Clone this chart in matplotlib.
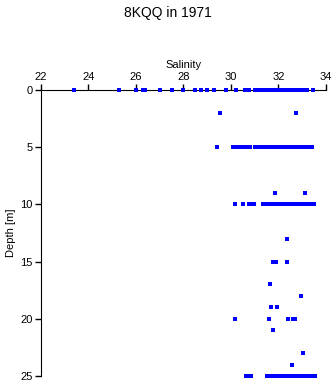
import numpy as np
import matplotlib
matplotlib.use('Agg')
from matplotlib import pyplot as plt

plt.rcParams['font.family'] = ['Liberation Sans', 'DejaVu Sans']

# salinity readings per depth level [m]
sal_0 = [23.4, 25.3, 26.0, 26.3, 26.4, 27.0, 27.5, 28.0, 28.5, 28.75, 29.0, 29.3,
         29.8, 30.2, 30.6, 30.75, 31.0, 31.2, 31.3, 31.4, 31.5, 31.6, 31.7, 31.8,
         31.9, 32.0, 32.1, 32.2, 32.3, 32.4, 32.5, 32.6, 32.7, 32.8, 32.9, 33.0,
         33.1, 33.2, 33.45]
sal_2 = [29.55, 32.75]
sal_5 = [29.4, 30.1, 30.15, 30.25, 30.4, 30.5, 30.6, 30.7, 30.8, 31.0, 31.1,
         31.2, 31.3, 31.4, 31.5, 31.6, 31.7, 31.8, 31.9, 32.0, 32.1, 32.2, 32.3,
         32.4, 32.5, 32.6, 32.7, 32.8, 32.9, 33.0, 33.1, 33.2, 33.3, 33.4]
sal_9 = [31.85, 33.1]
sal_10 = [30.15, 30.5, 30.75, 30.85, 30.95, 31.35, 31.5, 31.6, 31.7, 31.8, 31.9,
          32.0, 32.1, 32.2, 32.3, 32.45, 32.6, 32.7, 32.8, 32.9, 33.0, 33.1,
          33.2, 33.35, 33.5]
sal_13 = [32.35]
sal_15 = [31.75, 31.9, 32.35]
sal_17 = [31.65]
sal_18 = [32.95]
sal_19 = [31.7, 31.95]
sal_20 = [30.15, 31.6, 32.4, 32.6, 32.7]
sal_21 = [31.75]
sal_23 = [33.05]
sal_24 = [32.55]
sal_25 = [30.65, 30.75, 30.85, 31.5, 31.6, 31.7, 31.8, 31.9, 32.0, 32.1, 32.2,
          32.3, 32.45, 32.6, 32.7, 32.8, 32.9, 33.0, 33.1, 33.2, 33.3, 33.4, 33.55]

levels = [0, 2, 5, 9, 10, 13, 15, 17, 18, 19, 20, 21, 23, 24, 25]
readings = [sal_0, sal_2, sal_5, sal_9, sal_10, sal_13, sal_15, sal_17, sal_18,
            sal_19, sal_20, sal_21, sal_23, sal_24, sal_25]

fig = plt.figure(figsize=(3.35, 3.84), dpi=100)
ax = fig.add_axes([0.1224, 0.0208, 0.8506, 0.7448])

for d, s in zip(levels, readings):
    ax.plot(s, [d] * len(s), 's', color='blue', markersize=2.2,
            markeredgewidth=0, linestyle='none', clip_on=False, zorder=5)

ax.set_xlim(22, 34)
ax.set_ylim(25, 0)
ax.set_xticks([22, 24, 26, 28, 30, 32, 34])
ax.set_yticks([0, 5, 10, 15, 20, 25])
ax.xaxis.tick_top()
ax.xaxis.set_label_position('top')
ax.spines['bottom'].set_visible(False)
ax.spines['right'].set_visible(False)
ax.tick_params(direction='out', length=4, width=1, labelsize=8, pad=2)
ax.set_xlabel('Salinity', fontsize=8, labelpad=3)
ax.set_ylabel('Depth [m]', fontsize=8, labelpad=3)
fig.suptitle('8KQQ in 1971', fontsize=10, y=0.985)

plt.savefig('out.png', dpi=100)
